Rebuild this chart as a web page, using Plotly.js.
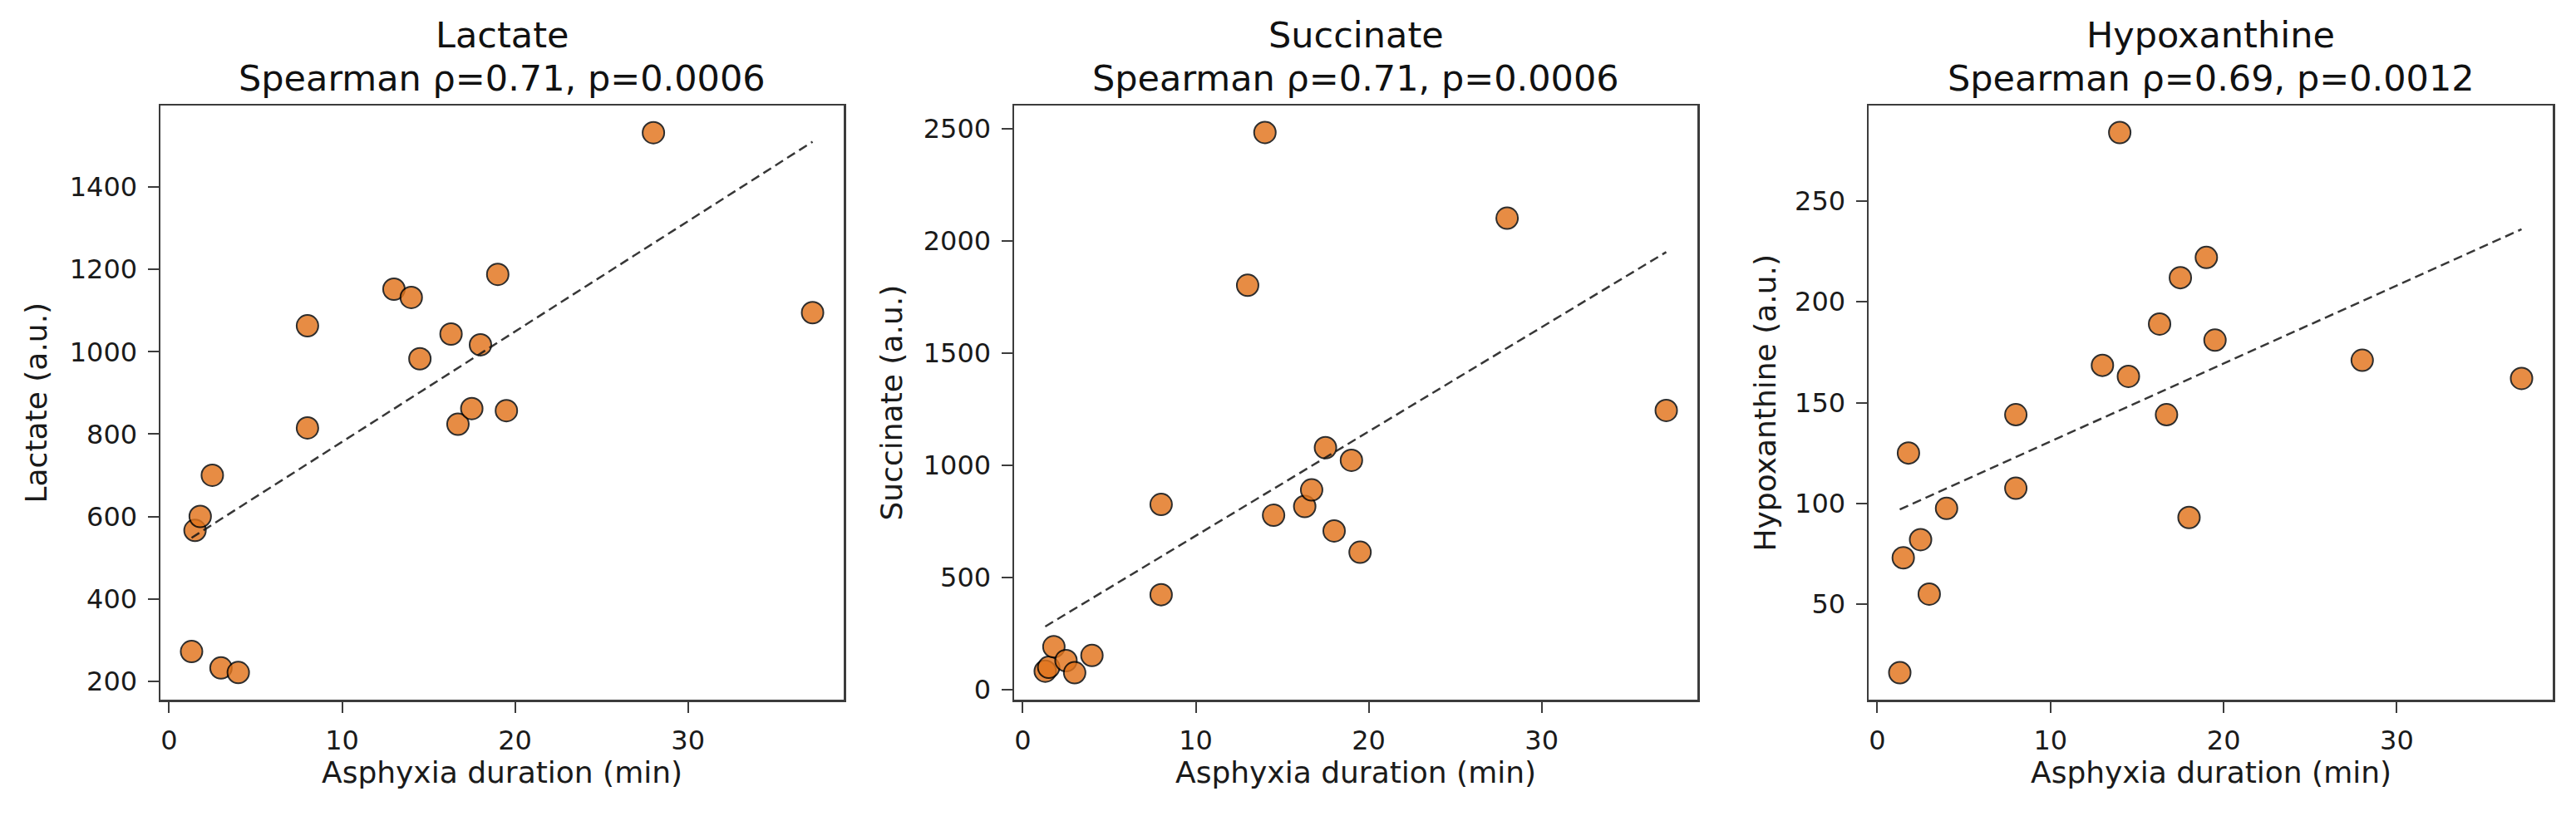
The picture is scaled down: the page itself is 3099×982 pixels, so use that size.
<!DOCTYPE html>
<html>
<head>
<meta charset="utf-8">
<script src="https://cdn.plot.ly/plotly-3.0.1.min.js"></script>
<style>
  html, body { margin: 0; padding: 0; background: #ffffff; }
  #chart { width: 3099px; height: 982px; }
</style>
</head>
<body>
<div id="chart"></div>
<script>
// asphyxia duration (min), one value per animal, shared by the three panels
var duration = [1.3, 1.5, 1.8, 2.5, 3.0, 4.0, 8.0, 8.0, 13.0, 14.0, 14.5, 16.3, 16.7, 17.5, 18.0, 19.0, 19.5, 28.0, 37.2];

// metabolite levels (a.u.), same order as duration
var lactate = [272, 566, 600, 700, 232, 221, 1063, 815, 1152, 1132, 983, 1043, 824, 862, 1017, 1188, 857, 1532, 1095];
var succinate = [83, 100, 192, 130, 76, 153, 826, 424, 1803, 2484, 778, 817, 891, 1079, 708, 1023, 613, 2102, 1245];
var hypoxanthine = [16, 73, 125, 82, 55, 97.5, 144, 107.5, 168.5, 284, 163, 189, 144, 212, 93, 222, 181, 171, 162];

// dashed trend lines, end points
var trendX = [1.3, 37.2];
var lactateTrend = [548, 1510];
var succinateTrend = [282, 1951];
var hypoxanthineTrend = [97, 236];

var names = ["Lactate", "Succinate", "Hypoxanthine"];
var stats = ["Spearman ρ=0.71, p=0.0006", "Spearman ρ=0.71, p=0.0006", "Spearman ρ=0.69, p=0.0012"];
var yLabels = ["Lactate (a.u.)", "Succinate (a.u.)", "Hypoxanthine (a.u.)"];
var xLabel = "Asphyxia duration (min)";

var W = 3099, H = 982;
var FONT = "DejaVu Sans, Verdana, sans-serif";

// pixel boxes of the three axes
var panelLeft = [193, 1220, 2248];
var panelRight = [1015, 2042, 3071];
var panelTop = 127, panelBottom = 842;
var yLabelX = [43, 1072, 2123];

function px(x) { return x / W; }
function py(y) { return 1 - y / H; }

function axisStyle() {
    return {
        showgrid: false,
        zeroline: false,
        showline: true,
        linecolor: '#3c3c3c',
        linewidth: 2.5,
        mirror: true,
        ticks: 'outside',
        ticklen: 13,
        tickwidth: 2,
        tickcolor: '#3c3c3c',
        ticklabelstandoff: 6,
        tickfont: { family: FONT, size: 32, color: '#1a1a1a' }
    };
}

var ySeries = [lactate, succinate, hypoxanthine];
var yTrends = [lactateTrend, succinateTrend, hypoxanthineTrend];
var yRanges = [[155, 1598], [-44, 2604], [2.6, 297.4]];
var yDticks = [200, 500, 50];

var traces = [];
var layout = {
    width: W,
    height: H,
    margin: { l: 0, r: 0, t: 0, b: 0 },
    paper_bgcolor: '#ffffff',
    plot_bgcolor: '#ffffff',
    showlegend: false,
    font: { family: FONT, color: '#1a1a1a' },
    annotations: []
};

for (var i = 0; i < 3; i++) {
    var suffix = i == 0 ? '' : String(i + 1);
    traces.push({
        type: 'scatter',
        mode: 'markers',
        x: duration,
        y: ySeries[i],
        xaxis: 'x' + suffix,
        yaxis: 'y' + suffix,
        marker: {
            size: 26,
            color: 'rgb(226,116,28)',
            opacity: 0.82,
            line: { color: '#000000', width: 2 }
        },
        hoverinfo: 'x+y'
    });
    traces.push({
        type: 'scatter',
        mode: 'lines',
        x: trendX,
        y: yTrends[i],
        xaxis: 'x' + suffix,
        yaxis: 'y' + suffix,
        line: { color: 'rgba(20,20,20,0.85)', width: 2.5, dash: '11px,6px' },
        hoverinfo: 'skip'
    });

    var xa = axisStyle();
    xa.domain = [px(panelLeft[i]), px(panelRight[i])];
    xa.range = [-0.5, 39.0];
    xa.tick0 = 0;
    xa.dtick = 10;
    xa.anchor = 'y' + suffix;

    var ya = axisStyle();
    ya.domain = [py(panelBottom), py(panelTop)];
    ya.range = yRanges[i];
    ya.tick0 = 0;
    ya.dtick = yDticks[i];
    ya.anchor = 'x' + suffix;

    layout['xaxis' + suffix] = xa;
    layout['yaxis' + suffix] = ya;

    var centre = (panelLeft[i] + panelRight[i]) / 2;
    //Two-line subplot title
    layout.annotations.push({
        text: names[i], xref: 'paper', yref: 'paper',
        x: px(centre), y: py(42), xanchor: 'center', yanchor: 'middle',
        showarrow: false, font: { family: FONT, size: 43, color: '#111111' }
    });
    layout.annotations.push({
        text: stats[i], xref: 'paper', yref: 'paper',
        x: px(centre), y: py(94), xanchor: 'center', yanchor: 'middle',
        showarrow: false, font: { family: FONT, size: 43, color: '#111111' }
    });
    //Axis titles
    layout.annotations.push({
        text: xLabel, xref: 'paper', yref: 'paper',
        x: px(centre), y: py(929), xanchor: 'center', yanchor: 'middle',
        showarrow: false, font: { family: FONT, size: 36, color: '#1a1a1a' }
    });
    layout.annotations.push({
        text: yLabels[i], xref: 'paper', yref: 'paper', textangle: -90,
        x: px(yLabelX[i]), y: py((panelTop + panelBottom) / 2), xanchor: 'center', yanchor: 'middle',
        showarrow: false, font: { family: FONT, size: 36, color: '#1a1a1a' }
    });
}

Plotly.newPlot('chart', traces, layout, { staticPlot: true, displayModeBar: false });
</script>
</body>
</html>
